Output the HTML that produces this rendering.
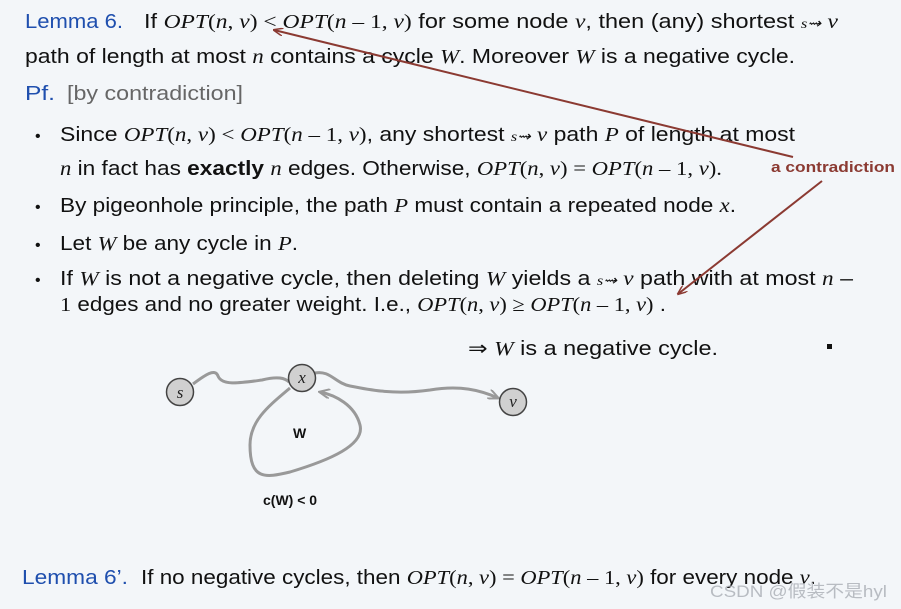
<!DOCTYPE html>
<html><head><meta charset="utf-8"><style>
html,body{margin:0;padding:0;background:#f3f6f9;}
svg{display:block}
.s{font-family:"Liberation Sans","DejaVu Sans",sans-serif;font-size:20px;fill:#111}
.m{font-family:"Liberation Serif",serif;font-style:italic}
.r{font-family:"Liberation Serif",serif;font-style:normal}
.b{fill:#1f4fae}
</style></head><body>
<svg width="901" height="609" viewBox="0 0 901 609" xmlns="http://www.w3.org/2000/svg">
<rect width="901" height="609" fill="#f3f6f9"/>
<g class="s">
<text x="25" y="28" class="b" textLength="98" lengthAdjust="spacingAndGlyphs">Lemma 6.</text>
<text x="144" y="28" textLength="694" lengthAdjust="spacingAndGlyphs">If <tspan class="m">OPT</tspan><tspan class="r">(</tspan><tspan class="m">n</tspan><tspan class="r">, </tspan><tspan class="m">v</tspan><tspan class="r">) &lt; </tspan><tspan class="m">OPT</tspan><tspan class="r">(</tspan><tspan class="m">n</tspan><tspan class="r"> – 1, </tspan><tspan class="m">v</tspan><tspan class="r">)</tspan> for some node <tspan class="m">v</tspan>, then (any) shortest <tspan class="m" font-size="14">s⇝</tspan> <tspan class="m">v</tspan></text>
<text x="25" y="63" textLength="770" lengthAdjust="spacingAndGlyphs">path of length at most <tspan class="m">n</tspan>  contains a cycle <tspan class="m">W</tspan>.  Moreover <tspan class="m">W</tspan>  is a negative cycle.</text>
<text x="25" y="100" class="b" textLength="30" lengthAdjust="spacingAndGlyphs">Pf.</text>
<text x="67" y="100" style="fill:#666" textLength="176" lengthAdjust="spacingAndGlyphs">[by contradiction]</text>
<text x="35" y="141" font-size="16">•</text>
<text x="60" y="141" textLength="735" lengthAdjust="spacingAndGlyphs">Since <tspan class="m">OPT</tspan><tspan class="r">(</tspan><tspan class="m">n</tspan><tspan class="r">, </tspan><tspan class="m">v</tspan><tspan class="r">)  &lt;  </tspan><tspan class="m">OPT</tspan><tspan class="r">(</tspan><tspan class="m">n</tspan><tspan class="r"> – 1, </tspan><tspan class="m">v</tspan><tspan class="r">)</tspan>, any shortest <tspan class="m" font-size="14">s⇝</tspan> <tspan class="m">v</tspan>  path <tspan class="m">P</tspan> of length at most</text>
<text x="60" y="175" textLength="662" lengthAdjust="spacingAndGlyphs"><tspan class="m">n</tspan>  in fact has  <tspan font-weight="bold">exactly</tspan> <tspan class="m">n</tspan> edges. Otherwise, <tspan class="m">OPT</tspan><tspan class="r">(</tspan><tspan class="m">n</tspan><tspan class="r">, </tspan><tspan class="m">v</tspan><tspan class="r">) = </tspan><tspan class="m">OPT</tspan><tspan class="r">(</tspan><tspan class="m">n</tspan><tspan class="r"> – 1, </tspan><tspan class="m">v</tspan><tspan class="r">).</tspan></text>
<text x="35" y="212" font-size="16">•</text>
<text x="60" y="212" textLength="676" lengthAdjust="spacingAndGlyphs">By pigeonhole principle, the path <tspan class="m">P</tspan> must contain a repeated node <tspan class="m">x</tspan>.</text>
<text x="35" y="250" font-size="16">•</text>
<text x="60" y="250" textLength="238" lengthAdjust="spacingAndGlyphs">Let <tspan class="m">W</tspan> be any cycle in <tspan class="m">P</tspan>.</text>
<text x="35" y="285" font-size="16">•</text>
<text x="60" y="285" textLength="793" lengthAdjust="spacingAndGlyphs">If <tspan class="m">W</tspan>  is not a negative cycle, then deleting <tspan class="m">W</tspan>  yields a <tspan class="m" font-size="14">s⇝</tspan> <tspan class="m">v</tspan> path with at most <tspan class="m">n</tspan> –</text>
<text x="60" y="311" textLength="606" lengthAdjust="spacingAndGlyphs"><tspan class="r">1</tspan> edges and no greater weight. I.e., <tspan class="m">OPT</tspan><tspan class="r">(</tspan><tspan class="m">n</tspan><tspan class="r">, </tspan><tspan class="m">v</tspan><tspan class="r">) ≥ </tspan><tspan class="m">OPT</tspan><tspan class="r">(</tspan><tspan class="m">n</tspan><tspan class="r"> – 1, </tspan><tspan class="m">v</tspan><tspan class="r">)</tspan> .</text>
<text x="468" y="355" textLength="250" lengthAdjust="spacingAndGlyphs">⇒  <tspan class="m">W</tspan> is a negative cycle.</text>
<text x="22" y="584" class="b" textLength="106" lengthAdjust="spacingAndGlyphs">Lemma 6’.</text>
<text x="141" y="584" textLength="675" lengthAdjust="spacingAndGlyphs">If no negative cycles, then <tspan class="m">OPT</tspan><tspan class="r">(</tspan><tspan class="m">n</tspan><tspan class="r">, </tspan><tspan class="m">v</tspan><tspan class="r">) = </tspan><tspan class="m">OPT</tspan><tspan class="r">(</tspan><tspan class="m">n</tspan><tspan class="r"> – 1, </tspan><tspan class="m">v</tspan><tspan class="r">)</tspan> for every node <tspan class="m">v</tspan>.</text>
</g>
<rect x="827" y="344" width="5" height="5" fill="#111"/>
<text x="771" y="172" font-family="Liberation Sans,sans-serif" font-size="15" font-weight="bold" fill="#8b3a32" textLength="124" lengthAdjust="spacingAndGlyphs">a contradiction</text>
<defs><marker id="ra" markerWidth="10" markerHeight="8" refX="9" refY="4" orient="auto" markerUnits="userSpaceOnUse"><path d="M0,0 L10,4 L0,8" fill="none" stroke="#8b3a32" stroke-width="1.5"/></marker>
<marker id="ga" markerWidth="12" markerHeight="10" refX="10" refY="5" orient="auto" markerUnits="userSpaceOnUse"><path d="M0,0 L11,5 L0,10" fill="none" stroke="#999" stroke-width="2"/></marker></defs>
<line x1="793" y1="157" x2="274" y2="30" stroke="#8b3a32" stroke-width="2" marker-end="url(#ra)"/>
<line x1="822" y1="181" x2="678" y2="294" stroke="#8b3a32" stroke-width="2" marker-end="url(#ra)"/>
<g fill="none" stroke="#999" stroke-width="3">
<path d="M193,384 C205,375 215,368 218,376 C222,386 240,383 262,380 C278,376 285,378 289,382"/>
<path d="M315,373 C330,370 335,383 350,386 C370,390 395,395 430,390 C460,385 480,390 498,398" marker-end="url(#ga)"/>
<path d="M290,388 C270,405 250,420 250,445 C250,480 265,478 290,472 C330,460 365,445 360,425 C355,405 335,395 320,392" marker-end="url(#ga)"/>
</g>
<g stroke="#444" stroke-width="1.5" fill="#d0d0d0">
<circle cx="180" cy="392" r="13.5"/><circle cx="302" cy="378" r="13.5"/><circle cx="513" cy="402" r="13.5"/>
</g>
<g font-family="Liberation Serif,serif" font-style="italic" font-size="17" fill="#222" text-anchor="middle">
<text x="180" y="398">s</text><text x="302" y="383">x</text><text x="513" y="407">v</text></g>
<g font-family="Liberation Sans,sans-serif" font-weight="bold" font-size="14" fill="#111">
<text x="293" y="438">W</text><text x="263" y="505">c(W) &lt; 0</text></g>
<text x="710" y="597" font-family="Liberation Sans,'Noto Sans CJK SC',sans-serif" font-size="17" fill="#b8bcc2" textLength="177" lengthAdjust="spacingAndGlyphs">CSDN @假装不是hyl</text>
</svg>
</body></html>
